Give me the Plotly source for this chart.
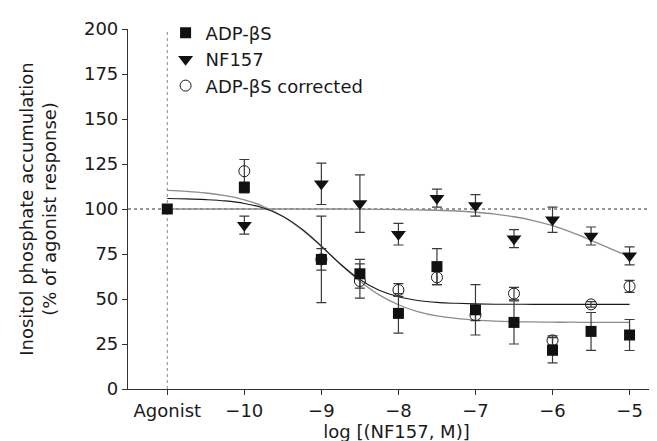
import plotly.graph_objects as go

# ---- data ----
tick_vals = [-11, -10, -9, -8, -7, -6, -5]
tick_text = ["Agonist", "\u221210", "\u22129", "\u22128", "\u22127", "\u22126", "\u22125"]

adp_x = [-11, -10, -9, -8.5, -8, -7.5, -7, -6.5, -6, -5.5, -5]
adp_y = [100, 112, 72, 64, 42, 68, 44, 37, 21.5, 32, 30]
adp_err = [0, 3, 24, 8, 11, 10, 14, 12, 7, 10.5, 8.6]

nf_x = [-10, -9, -8.5, -8, -7.5, -7, -6.5, -6, -5.5, -5]
nf_y = [91, 114, 103, 86, 106, 102, 83.5, 94, 85, 74]
nf_err = [5, 11.5, 16, 6, 5, 6, 5, 7, 5, 5]

cor_x = [-10, -9, -8.5, -8, -7.5, -7, -6.5, -6, -5.5, -5]
cor_y = [121, 72, 60, 55, 62, 41, 53, 27, 47, 57]
cor_err = [6.5, 6, 9.5, 3.5, 4, 3, 3.5, 2.5, 1.5, 3.3]

# fitted curves
curve_x = [-11, -10.75, -10.5, -10.25, -10, -9.75, -9.5, -9.25, -9, -8.75, -8.5,
           -8.25, -8, -7.75, -7.5, -7.25, -7, -6.75, -6.5, -6.25, -6, -5.75,
           -5.5, -5.25, -5]
adp_fit = [110.3, 109.8, 108.9, 107.4, 105.1, 101.4, 95.9, 88.4, 79.2, 69.2, 59.9,
           52.3, 46.8, 43.0, 40.6, 39.2, 38.3, 37.7, 37.4, 37.3, 37.1, 37.1,
           37.0, 37.0, 37.0]
cor_fit = [105.8, 105.6, 105.2, 104.5, 103.1, 100.5, 95.9, 88.8, 79.4, 69.3, 60.8,
           54.8, 51.2, 49.2, 48.1, 47.6, 47.3, 47.1, 47.1, 47.0, 47.0, 47.0,
           47.0, 47.0, 47.0]
nf_fit = [100.0, 100.0, 100.0, 100.0, 100.0, 100.0, 100.0, 100.0, 100.0, 100.0, 99.9,
          99.8, 99.7, 99.5, 99.3, 98.9, 98.2, 97.2, 95.7, 93.6, 90.7, 87.0,
          82.6, 78.0, 73.5]

FONT = "DejaVu Sans, Liberation Sans, Arial, sans-serif"
TXT = "#1a1a1a"
EB = "#3a3a3a"

fig = go.Figure()

# fitted curves
fig.add_trace(go.Scatter(x=curve_x, y=nf_fit, mode="lines", line=dict(color="#8c8c8c", width=1.3, shape="spline"),
                         showlegend=False, hoverinfo="skip"))
fig.add_trace(go.Scatter(x=curve_x, y=adp_fit, mode="lines", line=dict(color="#8c8c8c", width=1.3, shape="spline"),
                         showlegend=False, hoverinfo="skip"))
fig.add_trace(go.Scatter(x=curve_x, y=cor_fit, mode="lines", line=dict(color="#1a1a1a", width=1.1, shape="spline"),
                         showlegend=False, hoverinfo="skip"))

# data points
fig.add_trace(go.Scatter(
    x=cor_x, y=cor_y, mode="markers", name="ADP-\u03b2S corrected", legendrank=3,
    marker=dict(symbol="circle-open", size=11, color="#1a1a1a", line=dict(width=1)),
    error_y=dict(type="data", array=cor_err, color=EB, thickness=1.2, width=5)))
fig.add_trace(go.Scatter(
    x=adp_x, y=adp_y, mode="markers", name="ADP-\u03b2S", legendrank=1,
    marker=dict(symbol="square", size=11, color="#111111"),
    error_y=dict(type="data", array=adp_err, color=EB, thickness=1.2, width=5)))
fig.add_trace(go.Scatter(
    x=nf_x, y=nf_y, mode="markers", name="NF157", legendrank=2,
    marker=dict(symbol="triangle-down", size=13, color="#111111"),
    error_y=dict(type="data", array=nf_err, color=EB, thickness=1.2, width=5)))

# reference lines
fig.add_shape(type="line", xref="x", yref="y", x0=-11.51, x1=-4.54, y0=100, y1=100,
              line=dict(color="#333333", width=1.2, dash="dot"), layer="below")
fig.add_shape(type="line", xref="x", yref="y", x0=-11, x1=-11, y0=0, y1=200,
              line=dict(color="#888888", width=1, dash="dot"), layer="below")

fig.update_layout(
    width=657, height=441,
    margin=dict(l=120, r=0, t=21, b=60),
    paper_bgcolor="white", plot_bgcolor="white",
    font=dict(family=FONT, size=18, color=TXT),
    legend=dict(x=0.07, y=1.04, xanchor="left", yanchor="top", bgcolor="rgba(0,0,0,0)",
                font=dict(size=18), tracegroupgap=0, itemwidth=30),
    xaxis=dict(range=[-11.51, -4.54], tickvals=tick_vals, ticktext=tick_text,
               showgrid=False, zeroline=False, showline=True, linecolor="#333333", linewidth=1.2,
               ticks="outside", ticklen=5, tickcolor="#333333",
               tickfont=dict(size=18, color=TXT),
               title=dict(text="log [(NF157, M)]", font=dict(size=18, color=TXT), standoff=1)),
    yaxis=dict(range=[0, 200], tickvals=[0, 25, 50, 75, 100, 125, 150, 175, 200],
               showgrid=False, zeroline=False, showline=True, linecolor="#333333", linewidth=1.2,
               ticks="outside", ticklen=5, tickcolor="#333333",
               tickfont=dict(size=18, color=TXT),
               title=dict(text="Inositol phosphate accumulation<br>(% of agonist response)",
                          font=dict(size=18, color=TXT), standoff=22)),
)

fig.write_html("out.html")
